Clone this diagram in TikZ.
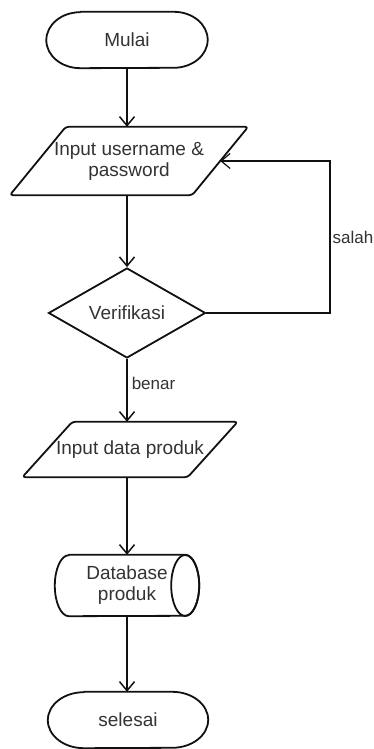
\documentclass[tikz,border=0pt]{standalone}
\usepackage{fontspec}
\setmainfont{Liberation Sans}
\usetikzlibrary{arrows.meta,shapes.geometric}
\definecolor{inkline}{HTML}{111111}
\definecolor{inktext}{HTML}{333333}
\tikzset{
  box/.style={rectangle, draw=none, inner sep=0pt, text=inktext,
    font=\fontsize{19}{21}\selectfont, align=center},
  outline/.style={draw=inkline, line width=1.8pt, line join=round},
  flow/.style={draw=inkline, line width=1.5pt,
    -{Straight Barb[length=9pt,width=15pt]}},
  edgelabel/.style={text=inktext, font=\fontsize{17}{20}\selectfont, inner sep=1pt},
}
% stadium outline round a rectangular node (#2 = end x radius)
\newcommand\termoutline[2]{%
  \draw[outline] ([xshift=#2]#1.north west) -- ([xshift=-#2]#1.north east)
    arc[start angle=90,end angle=-90,x radius=#2,y radius=28pt]
    -- ([xshift=#2]#1.south west)
    arc[start angle=270,end angle=90,x radius=#2,y radius=28pt] -- cycle;}
% slanted input/output outline (#2 = half slant)
\newcommand\pgramoutline[2]{%
  \draw[outline, rounded corners=3pt] ([xshift=#2]#1.north west) -- ([xshift=#2]#1.north east)
    -- ([xshift=-#2]#1.south east) -- ([xshift=-#2]#1.south west) -- cycle;}
\begin{document}
\begin{tikzpicture}[x=1pt,y=1pt]
\fill[white] (0,0) rectangle (374,749);
\useasboundingbox (0,0) rectangle (374,749);

% nodes
\node[box, minimum width=161pt, minimum height=56pt] (mulai) at (127,709) {Mulai};
\termoutline{mulai}{34pt}

\node[box, minimum width=182pt, minimum height=68pt] (login) at (129,588)
  {Input username \&\\password};
\pgramoutline{login}{28pt}

\node[diamond, draw=inkline, line width=1.8pt, minimum width=157pt, minimum height=83pt,
  inner sep=0pt, text=inktext, font=\fontsize{19}{21}\selectfont] (verif) at (127,436) {Verifikasi};

\node[box, minimum width=165pt, minimum height=55pt] (produk) at (130,299.5) {Input data produk};
\pgramoutline{produk}{25pt}

\node[box, minimum width=144pt, minimum height=61pt] (db) at (127,163.5) {Database\\produk};
\draw[outline] ([xshift=14pt]db.north west) -- ([xshift=-14pt]db.north east)
  arc[start angle=90,end angle=-90,x radius=14pt,y radius=30.5pt]
  -- ([xshift=14pt]db.south west)
  arc[start angle=270,end angle=90,x radius=14pt,y radius=30.5pt] -- cycle;
\draw[outline] ([xshift=-14pt]db.east) ellipse[x radius=14pt,y radius=30.5pt];

\node[box, minimum width=160pt, minimum height=56pt] (selesai) at (128,29) {selesai};
\termoutline{selesai}{36pt}

% connectors
\coordinate (loopx) at (330,0);
\draw[flow] (mulai.south) -- (mulai.south |- login.north);
\draw[flow] (login.south -| verif) -- (verif.north);
\draw[flow, line width=1.2pt] (verif.east) -- (verif.east -| loopx)
  |- node[pos=0.25, right=1pt, edgelabel] {salah} (login.east);
\draw[flow] (verif.south) -- node[pos=0.39, right=3pt, edgelabel] {benar} (verif.south |- produk.north);
\draw[flow] (produk.south -| db) -- (db.north);
\draw[flow] (db.south) -- (selesai.north -| db);
\end{tikzpicture}
\end{document}
